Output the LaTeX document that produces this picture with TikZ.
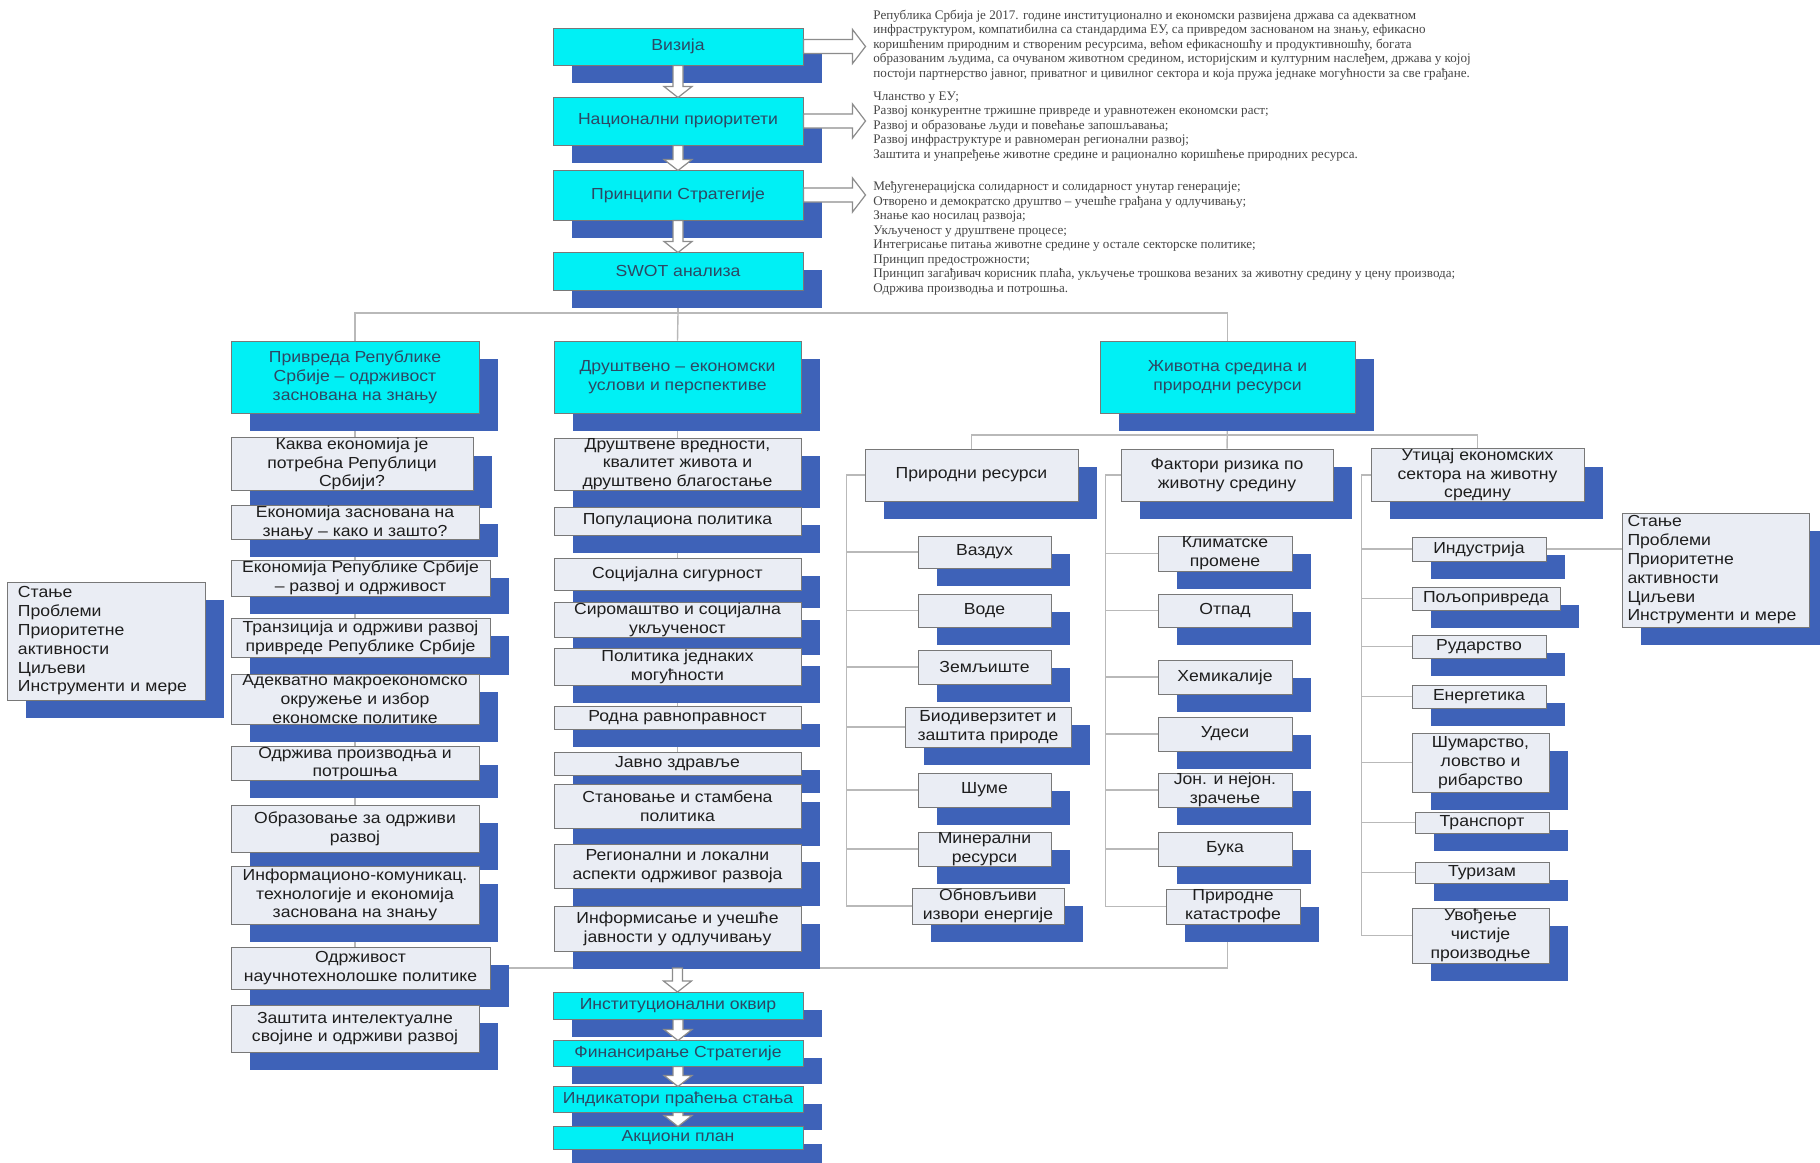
\documentclass[tikz,border=0pt]{standalone}
\usepackage{fontspec}
\setmainfont{Liberation Serif}
\newfontfamily\boxfont[FakeStretch=1.1]{Liberation Sans}
\usetikzlibrary{shadows,calc}
\definecolor{cyanfill}{RGB}{0,240,245}
\definecolor{shadowblue}{RGB}{62,98,184}
\definecolor{greyfill}{RGB}{234,237,244}
\definecolor{boxedge}{RGB}{120,120,120}
\definecolor{linegray}{RGB}{185,185,185}
\definecolor{cyantext}{RGB}{45,72,100}
\definecolor{greytext}{RGB}{30,30,30}
\definecolor{notetext}{RGB}{70,70,70}
\definecolor{arrowgray}{RGB}{140,140,140}
\pgfdeclarelayer{paper}
\pgfdeclarelayer{back}
\pgfsetlayers{paper,back,main}
\tikzstyle{link} = [draw=linegray, line width=0.7pt]
\tikzstyle{basebox} = [draw=boxedge, line width=0.5pt, inner sep=0pt, align=center, font=\boxfont\fontsize{8}{9.4}\selectfont, general shadow={fill=shadowblue, shadow xshift=9.5pt, shadow yshift=-9pt}]
\tikzstyle{cyanbox} = [basebox, fill=cyanfill, text=cyantext]
\tikzstyle{greybox} = [basebox, fill=greyfill, text=greytext]
\tikzstyle{listbox} = [greybox, align=left, text width=88pt]
\tikzstyle{note} = [anchor=north west, inner sep=0pt, align=left, text=notetext, font=\fontsize{6.55}{7.25}\selectfont]
\tikzstyle{hollow} = [draw=arrowgray, fill=white, line width=0.6pt]
\tikzset{
  corners/.style n args={4}{at={({(#1+#3)/2},{(#2+#4)/2})}, minimum width={(#3-#1)*0.5pt}, minimum height={(#4-#2)*0.5pt}},
  pics/dnarrow/.style={code={\draw[hollow] (-5,0) -- (-5,#1-11) -- (-14,#1-11) -- (0,#1) -- (14,#1-11) -- (5,#1-11) -- (5,0) -- cycle;}},
  pics/rtarrow/.style={code={\draw[hollow] (0,-7) -- (#1-13,-7) -- (#1-13,-17) -- (#1,0) -- (#1-13,17) -- (#1-13,7) -- (0,7) -- cycle;}}
}
\begin{document}
\begin{tikzpicture}[x=0.5pt, y=-0.5pt]
        \begin{pgfonlayer}{paper}
        \fill[white] (0,0) rectangle (1820,1162);
        \end{pgfonlayer}
        \useasboundingbox (0,0) rectangle (1820,1162);
        % top chain
        \node[cyanbox, corners={553}{28}{803}{65}] (vizija) {Визија};
        \node[cyanbox, corners={553}{97}{803}{145}] (prioriteti) {Национални приоритети};
        \node[cyanbox, corners={553}{170}{803}{220}] (principi) {Принципи Стратегије};
        \node[cyanbox, corners={553}{252}{803}{290}] (swot) {SWOT анализа};
        \node[note] (vizijatext) at (873,9.5) {Република Србија је 2017. године институционално и економски развијена држава са адекватном\\
инфраструктуром, компатибилна са стандардима ЕУ, са привредом заснованом на знању, ефикасно\\
коришћеним природним и створеним ресурсима, већом ефикасношћу и продуктивношћу, богата\\
образованим људима, са очуваном животном средином, историјским и културним наслеђем, држава у којој\\
постоји партнерство јавног, приватног и цивилног сектора и која пружа једнаке могућности за све грађане.};
        \node[note] (prioritetitext) at (873,91.5) {Чланство у ЕУ;\\
Развој конкурентне тржишне привреде и уравнотежен економски раст;\\
Развој и образовање људи и повећање запошљавања;\\
Развој инфраструктуре и равномеран регионални развој;\\
Заштита и унапређење животне средине и рационално коришћење природних ресурса.};
        \node[note] (principitext) at (873,181.5) {Међугенерацијска солидарност и солидарност унутар генерације;\\
Отворено и демократско друштво – учешће грађана у одлучивању;\\
Знање као носилац развоја;\\
Укљученост у друштвене процесе;\\
Интегрисање питања животне средине у остале секторске политике;\\
Принцип предострожности;\\
Принцип загађивач корисник плаћа, укључење трошкова везаних за животну средину у цену производа;\\
Одржива производња и потрошња.};
        % left column
        \node[cyanbox, corners={231}{341}{479}{413}] (privreda) {Привреда Републике\\Србије – одрживост\\заснована на знању};
        \node[greybox, corners={231}{438}{473}{490}] (kakva) {Каква економија је\\потребна Републици\\Србији?};
        \node[greybox, corners={231}{507}{479}{538}] (znanje) {Економија заснована на\\знању – како и зашто?};
        \node[greybox, corners={231}{560}{490}{596}] (ekonomija) {Економија Републике Србије\\– развој и одрживост};
        \node[greybox, corners={231}{618}{490}{657}] (tranzicija) {Транзиција и одрживи развој\\привреде Републике Србије};
        \node[greybox, corners={231}{674}{479}{724}] (makro) {Адекватно макроекономско\\окружење и избор\\економске политике};
        \node[greybox, corners={231}{747}{479}{780}] (proizvodnja) {Одржива производња и\\потрошња};
        \node[greybox, corners={231}{805}{479}{852}] (obrazovanje) {Образовање за одрживи\\развој};
        \node[greybox, corners={231}{866}{479}{924}] (ikt) {Информационо-комуникац.\\технологије и економија\\заснована на знању};
        \node[greybox, corners={231}{947}{490}{989}] (odrzivost) {Одрживост\\научнотехнолошке политике};
        \node[greybox, corners={231}{1005}{479}{1052}] (svojina) {Заштита интелектуалне\\својине и одрживи развој};
        \node[listbox, corners={7}{582}{205}{700}] (stanje) {Стање\\Проблеми\\Приоритетне\\активности\\Циљеви\\Инструменти и мере};
        % middle column
        \node[cyanbox, corners={554}{341}{801}{413}] (drustveno) {Друштвено – економски\\услови и перспективе};
        \node[greybox, corners={554}{438}{801}{490}] (vrednosti) {Друштвене вредности,\\квалитет живота и\\друштвено благостање};
        \node[greybox, corners={554}{507}{801}{535}] (populaciona) {Популациона политика};
        \node[greybox, corners={554}{558}{801}{590}] (sigurnost) {Социјална сигурност};
        \node[greybox, corners={554}{602}{801}{637}] (siromastvo) {Сиромаштво и социјална\\укљученост};
        \node[greybox, corners={554}{648}{801}{685}] (jednakost) {Политика једнаких\\могућности};
        \node[greybox, corners={554}{706}{801}{729}] (rodna) {Родна равноправност};
        \node[greybox, corners={554}{752}{801}{775}] (zdravlje) {Јавно здравље};
        \node[greybox, corners={554}{784}{801}{828}] (stanovanje) {Становање и стамбена\\политика};
        \node[greybox, corners={554}{844}{801}{888}] (regionalni) {Регионални и локални\\аспекти одрживог развоја};
        \node[greybox, corners={554}{906}{801}{951}] (informisanje) {Информисање и учешће\\јавности у одлучивању};
        % bottom chain
        \node[cyanbox, corners={553}{992}{803}{1019}] (institut) {Институционални оквир};
        \node[cyanbox, corners={553}{1040}{803}{1066}] (finansiranje) {Финансирање Стратегије};
        \node[cyanbox, corners={553}{1086}{803}{1112}] (indikatori) {Индикатори праћења стања};
        \node[cyanbox, corners={553}{1126}{803}{1149}] (akcioni) {Акциони план};
        % environment
        \node[cyanbox, corners={1100}{341}{1355}{413}] (zivotna) {Животна средина и\\природни ресурси};
        \node[greybox, corners={865}{449}{1078}{501}] (prirodni) {Природни ресурси};
        \node[greybox, corners={1121}{449}{1333}{501}] (faktori) {Фактори ризика по\\животну средину};
        \node[greybox, corners={1371}{449}{1584}{501}] (uticaj) {Утицај економских\\сектора на животну\\средину};
        \node[greybox, corners={918}{536}{1051}{568}] (vazduh) {Ваздух};
        \node[greybox, corners={918}{594}{1051}{627}] (vode) {Воде};
        \node[greybox, corners={918}{650}{1051}{684}] (zemljiste) {Земљиште};
        \node[greybox, corners={905}{707}{1071}{747}] (biodiverzitet) {Биодиверзитет и\\заштита природе};
        \node[greybox, corners={918}{773}{1051}{807}] (sume) {Шуме};
        \node[greybox, corners={918}{832}{1051}{866}] (mineralni) {Минерални\\ресурси};
        \node[greybox, corners={912}{888}{1064}{924}] (obnovljivi) {Обновљиви\\извори енергије};
        \node[greybox, corners={1158}{536}{1292}{571}] (klimatske) {Климатске\\промене};
        \node[greybox, corners={1158}{594}{1292}{627}] (otpad) {Отпад};
        \node[greybox, corners={1158}{660}{1292}{694}] (hemikalije) {Хемикалије};
        \node[greybox, corners={1158}{717}{1292}{751}] (udesi) {Удеси};
        \node[greybox, corners={1158}{773}{1292}{807}] (zracenje) {Јон. и нејон.\\зрачење};
        \node[greybox, corners={1158}{832}{1292}{866}] (buka) {Бука};
        \node[greybox, corners={1166}{889}{1300}{924}] (katastrofe) {Природне\\катастрофе};
        \node[greybox, corners={1412}{537}{1546}{561}] (industrija) {Индустрија};
        \node[greybox, corners={1412}{587}{1560}{610}] (poljoprivreda) {Пољопривреда};
        \node[greybox, corners={1412}{635}{1546}{658}] (rudarstvo) {Рударство};
        \node[greybox, corners={1412}{685}{1546}{708}] (energetika) {Енергетика};
        \node[greybox, corners={1412}{733}{1549}{792}] (sumarstvo) {Шумарство,\\ловство и\\рибарство};
        \node[greybox, corners={1415}{812}{1549}{833}] (transport) {Транспорт};
        \node[greybox, corners={1415}{862}{1549}{883}] (turizam) {Туризам};
        \node[greybox, corners={1412}{908}{1549}{963}] (uvodjenje) {Увођење\\чистије\\производње};
        \node[listbox, corners={1622}{513}{1809}{627}] (stanje2) {Стање\\Проблеми\\Приоритетне\\активности\\Циљеви\\Инструменти и мере};
        % connectors behind the boxes
        \begin{pgfonlayer}{back}
        \coordinate (hub) at (678,313);
        \coordinate (zbus) at (1228,435);
        \coordinate (pspine) at ($(prirodni.west)+(-18,0)$);
        \coordinate (fspine) at ($(faktori.west)+(-15,0)$);
        \coordinate (uspine) at ($(uticaj.west)+(-9,0)$);
        \path[link] (swot) -- (hub);
        \path[link] (privreda.north) |- (hub);
        \path[link] (hub) -| (zivotna.north);
        \path[link] (hub) -- (drustveno.north);
        \path[link] (privreda.south) -- (privreda.south |- odrzivost.north);
        \path[link] (drustveno.south) -- (drustveno.south |- odrzivost.east);
        \path[link] (odrzivost.east) -| (zivotna |- katastrofe.south);
        \path[link] (zivotna) -- (faktori);
        \path[link] (prirodni.north) |- (zbus) -| (uticaj.north);
        \path[link] (prirodni.west) -- (pspine) |- (obnovljivi.west);
        \path[link] (pspine) |- (vazduh.west);
        \path[link] (pspine) |- (vode.west);
        \path[link] (pspine) |- (zemljiste.west);
        \path[link] (pspine) |- (biodiverzitet.west);
        \path[link] (pspine) |- (sume.west);
        \path[link] (pspine) |- (mineralni.west);
        \path[link] (faktori.west) -- (fspine) |- (katastrofe.west);
        \path[link] (fspine) |- (klimatske.west);
        \path[link] (fspine) |- (otpad.west);
        \path[link] (fspine) |- (hemikalije.west);
        \path[link] (fspine) |- (udesi.west);
        \path[link] (fspine) |- (zracenje.west);
        \path[link] (fspine) |- (buka.west);
        \path[link] (uticaj.west) -- (uspine) |- (uvodjenje.west);
        \path[link] (uspine) |- (industrija.west);
        \path[link] (uspine) |- (poljoprivreda.west);
        \path[link] (uspine) |- (rudarstvo.west);
        \path[link] (uspine) |- (energetika.west);
        \path[link] (uspine) |- (sumarstvo.west);
        \path[link] (uspine) |- (transport.west);
        \path[link] (uspine) |- (turizam.west);
        \path[link] (industrija.east) -- (industrija.east -| stanje2.west);
        \end{pgfonlayer}
        % hollow arrows
        \pic at (vizija.south) {dnarrow=32};
        \pic at (prioriteti.south) {dnarrow=25};
        \pic at (principi.south) {dnarrow=32};
        \pic at (vizija.east) {rtarrow=62};
        \pic at (prioriteti.east) {rtarrow=62};
        \pic at (principi.east) {rtarrow=62};
        \pic at (drustveno.south |- odrzivost.east) {dnarrow=24};
        \pic at (institut.south) {dnarrow=21};
        \pic at (finansiranje.south) {dnarrow=20};
        \pic at (indikatori.south) {dnarrow=14};
    \end{tikzpicture}
\end{document}
